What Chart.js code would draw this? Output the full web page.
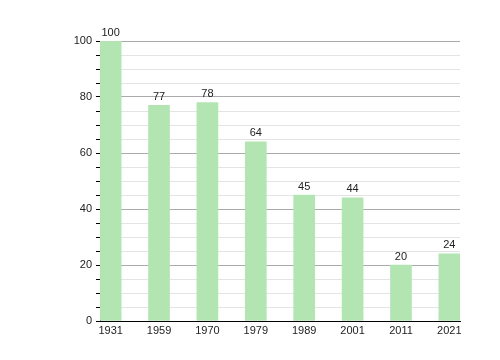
<!DOCTYPE html>
<html>
<head>
<meta charset="utf-8">
<script src="https://cdn.jsdelivr.net/npm/chart.js@4/dist/chart.umd.min.js"></script>
<style>
  html, body { margin: 0; padding: 0; background: #fff; }
  canvas { display: block; }
</style>
</head>
<body>
<canvas id="chart" width="500" height="360"></canvas>
<script>
const years = ["1931", "1959", "1970", "1979", "1989", "2001", "2011", "2021"];
const values = [100, 77, 78, 64, 45, 44, 20, 24];
const yTicks = [0, 20, 40, 60, 80, 100];

Chart.defaults.font.family = "'Liberation Sans', Arial, sans-serif";
Chart.defaults.font.size = 11;
Chart.defaults.color = "#222";

const barLabels = {
    id: "barLabels",
    afterDatasetsDraw(chart) {
        const ctx = chart.ctx;
        const meta = chart.getDatasetMeta(0);
        ctx.save();
        ctx.font = "11px 'Liberation Sans', Arial, sans-serif";
        ctx.fillStyle = "#222";
        ctx.textAlign = "center";
        ctx.textBaseline = "bottom";
        meta.data.forEach(function (bar, i) {
            ctx.fillText(values[i], bar.x, bar.y - 3);
        });
        ctx.restore();
    }
};

new Chart(document.getElementById("chart"), {
    type: "bar",
    data: {
        datasets: [{
            data: values.map((v, i) => ({ x: i, y: v })),
            backgroundColor: "#b3e5b3",
            borderWidth: 0,
            barThickness: 21
        }]
    },
    options: {
        responsive: false,
        animation: false,
        devicePixelRatio: 1,
        layout: { padding: { top: 41, right: 40, left: 0, bottom: 0 } },
        plugins: { legend: { display: false }, tooltip: { enabled: false } },
        scales: {
            x: {
                type: "linear",
                offset: false,
                min: -0.22,
                max: 7.22,
                grid: { drawOnChartArea: false, drawTicks: false },
                border: { color: "#000", width: 1 },
                ticks: {
                    stepSize: 1,
                    includeBounds: false,
                    autoSkip: false,
                    maxRotation: 0,
                    padding: 3,
                    callback: v => Number.isInteger(v) ? years[v] : ""
                },
                afterFit: s => { s.height = 39; }
            },
            y: {
                min: 0,
                max: 100,
                grid: {
                    color: c => yTicks.includes(c.tick.value) ? "#aaaaaa" : "#e4e4e4",
                    tickColor: "#000",
                    tickLength: 4
                },
                border: { color: "#000", width: 1 },
                ticks: {
                    stepSize: 5,
                    autoSkip: false,
                    padding: 4,
                    callback: v => yTicks.includes(v) ? v : ""
                },
                afterFit: s => { s.width = 100; }
            }
        }
    },
    plugins: [barLabels]
});
</script>
</body>
</html>
